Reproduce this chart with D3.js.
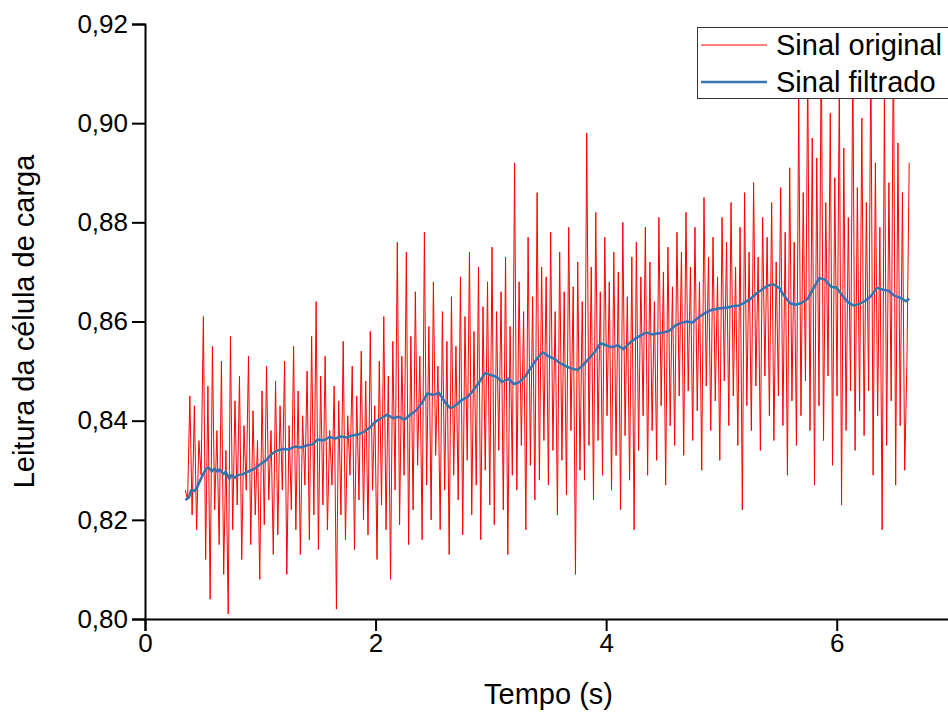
<!DOCTYPE html>
<html>
<head>
<meta charset="utf-8">
<script src="https://cdnjs.cloudflare.com/ajax/libs/d3/7.8.5/d3.min.js"></script>
<style>
  body { margin: 0; background: #fff; }
  text { font-family: "Liberation Sans", Arial, sans-serif; fill: #000; }
</style>
</head>
<body>
<svg width="948" height="713"></svg>
<script>
// sinal original: amostras a intervalo fixo a partir de tempoInicial
var tempoInicial = 0.35;
var passo = 0.01956;
var sinalOriginal = [
  0.826, 0.824, 0.845, 0.821, 0.843, 0.818, 0.836, 0.829, 0.861, 0.812, 0.847, 0.804, 0.855, 0.822, 0.838, 0.815, 0.852, 0.809, 0.834, 0.801,
  0.857, 0.818, 0.844, 0.823, 0.849, 0.812, 0.839, 0.826, 0.853, 0.815, 0.842, 0.821, 0.836, 0.808, 0.846, 0.819, 0.851, 0.824, 0.838, 0.813,
  0.848, 0.817, 0.843, 0.826, 0.852, 0.809, 0.839, 0.822, 0.855, 0.818, 0.846, 0.813, 0.841, 0.827, 0.850, 0.816, 0.857, 0.821, 0.864, 0.814,
  0.849, 0.823, 0.853, 0.818, 0.838, 0.827, 0.847, 0.802, 0.844, 0.821, 0.856, 0.816, 0.841, 0.829, 0.851, 0.814, 0.845, 0.824, 0.854, 0.820,
  0.848, 0.817, 0.858, 0.826, 0.843, 0.812, 0.852, 0.823, 0.861, 0.818, 0.849, 0.808, 0.856, 0.826, 0.876, 0.819, 0.853, 0.829, 0.874, 0.815,
  0.857, 0.822, 0.866, 0.831, 0.853, 0.816, 0.878, 0.827, 0.859, 0.820, 0.868, 0.833, 0.851, 0.818, 0.862, 0.826, 0.856, 0.813, 0.865, 0.829,
  0.855, 0.824, 0.869, 0.817, 0.861, 0.832, 0.874, 0.821, 0.858, 0.827, 0.871, 0.816, 0.863, 0.830, 0.868, 0.823, 0.875, 0.819, 0.862, 0.834,
  0.866, 0.822, 0.873, 0.813, 0.859, 0.829, 0.892, 0.826, 0.868, 0.835, 0.862, 0.818, 0.877, 0.831, 0.865, 0.824, 0.886, 0.828, 0.871, 0.836,
  0.869, 0.827, 0.878, 0.834, 0.862, 0.821, 0.874, 0.832, 0.866, 0.825, 0.879, 0.838, 0.867, 0.809, 0.872, 0.830, 0.864, 0.828, 0.898, 0.835,
  0.871, 0.824, 0.882, 0.836, 0.866, 0.829, 0.877, 0.841, 0.868, 0.826, 0.874, 0.833, 0.870, 0.822, 0.880, 0.837, 0.865, 0.828, 0.873, 0.818,
  0.876, 0.834, 0.869, 0.841, 0.879, 0.829, 0.872, 0.838, 0.864, 0.832, 0.881, 0.843, 0.870, 0.827, 0.875, 0.839, 0.867, 0.835, 0.878, 0.845,
  0.874, 0.833, 0.882, 0.846, 0.871, 0.836, 0.879, 0.842, 0.868, 0.830, 0.885, 0.847, 0.873, 0.838, 0.877, 0.844, 0.869, 0.832, 0.881, 0.848,
  0.876, 0.839, 0.884, 0.845, 0.871, 0.835, 0.879, 0.822, 0.886, 0.843, 0.874, 0.838, 0.888, 0.847, 0.873, 0.834, 0.881, 0.849, 0.877, 0.841,
  0.884, 0.836, 0.872, 0.845, 0.887, 0.839, 0.878, 0.829, 0.891, 0.844, 0.876, 0.835, 0.905, 0.841, 0.886, 0.848, 0.912, 0.838, 0.897, 0.827,
  0.893, 0.843, 0.918, 0.836, 0.884, 0.849, 0.902, 0.831, 0.889, 0.845, 0.908, 0.823, 0.895, 0.838, 0.881, 0.846, 0.914, 0.834, 0.887, 0.842,
  0.901, 0.837, 0.884, 0.846, 0.915, 0.829, 0.892, 0.841, 0.879, 0.818, 0.906, 0.835, 0.888, 0.844, 0.919, 0.827, 0.896, 0.839, 0.886, 0.830,
  0.852, 0.892
];

// sinal filtrado
var tempoFiltrado = [0.35, 0.38, 0.40, 0.43, 0.45, 0.48, 0.50, 0.53, 0.55, 0.58, 0.60, 0.63, 0.65, 0.68, 0.70, 0.73, 0.75, 0.78, 0.80, 0.85,
  0.90, 0.95, 1.00, 1.05, 1.10, 1.15, 1.20, 1.25, 1.30, 1.35, 1.40, 1.45, 1.50, 1.55, 1.60, 1.65, 1.70, 1.75, 1.80, 1.85,
  1.90, 1.95, 2.00, 2.05, 2.10, 2.15, 2.20, 2.25, 2.30, 2.35, 2.40, 2.45, 2.50, 2.55, 2.60, 2.65, 2.70, 2.75, 2.80, 2.85,
  2.90, 2.95, 3.00, 3.05, 3.10, 3.15, 3.20, 3.25, 3.30, 3.35, 3.40, 3.45, 3.50, 3.55, 3.60, 3.65, 3.70, 3.75, 3.80, 3.85,
  3.90, 3.95, 4.00, 4.05, 4.10, 4.15, 4.20, 4.25, 4.30, 4.35, 4.40, 4.45, 4.50, 4.55, 4.60, 4.65, 4.70, 4.75, 4.80, 4.85,
  4.90, 4.95, 5.00, 5.05, 5.10, 5.15, 5.20, 5.25, 5.30, 5.35, 5.40, 5.45, 5.50, 5.55, 5.60, 5.65, 5.70, 5.75, 5.80, 5.85,
  5.90, 5.95, 6.00, 6.05, 6.10, 6.15, 6.20, 6.25, 6.30, 6.35, 6.40, 6.45, 6.50, 6.55, 6.60, 6.63];
var sinalFiltrado = [0.8240, 0.8245, 0.8260, 0.8258, 0.8265, 0.8280, 0.8290, 0.8303, 0.8306, 0.8298, 0.8303, 0.8297, 0.8302, 0.8292, 0.8297, 0.8283, 0.8290, 0.8285, 0.8290, 0.8292,
  0.8298, 0.8303, 0.8312, 0.8320, 0.8333, 0.8340, 0.8343, 0.8342, 0.8348, 0.8346, 0.8350, 0.8352, 0.8362, 0.8360, 0.8367, 0.8364, 0.8368, 0.8366, 0.8370, 0.8372,
  0.8378, 0.8386, 0.8398, 0.8405, 0.8412, 0.8405, 0.8408, 0.8402, 0.8412, 0.8420, 0.8435, 0.8455, 0.8452, 0.8456, 0.8438, 0.8425, 0.8432, 0.8442, 0.8448, 0.8462,
  0.8478, 0.8496, 0.8492, 0.8488, 0.8478, 0.8485, 0.8474, 0.8478, 0.8490, 0.8508, 0.8525, 0.8538, 0.8530, 0.8525, 0.8516, 0.8510, 0.8505, 0.8502, 0.8512, 0.8525,
  0.8538, 0.8556, 0.8552, 0.8548, 0.8552, 0.8544, 0.8556, 0.8565, 0.8572, 0.8578, 0.8574, 0.8576, 0.8578, 0.8582, 0.8592, 0.8597, 0.8600, 0.8598, 0.8608, 0.8616,
  0.8622, 0.8625, 0.8627, 0.8628, 0.8631, 0.8632, 0.8638, 0.8645, 0.8656, 0.8664, 0.8672, 0.8675, 0.8668, 0.8650, 0.8636, 0.8634, 0.8638, 0.8646, 0.8668, 0.8688,
  0.8684, 0.8670, 0.8668, 0.8652, 0.8638, 0.8632, 0.8636, 0.8642, 0.8652, 0.8668, 0.8664, 0.8662, 0.8652, 0.8648, 0.8641, 0.8646];

var ticksX = [0, 2, 4, 6];
var ticksY = [0.80, 0.82, 0.84, 0.86, 0.88, 0.90, 0.92];
var legendas = ["Sinal original", "Sinal filtrado"];
var cores = ["#ff0000", "#3674b0"];

var svg = d3.select("svg");

var x = d3.scaleLinear().domain([0, 7]).range([145, 952]);
var y = d3.scaleLinear().domain([0.80, 0.92]).range([619, 24]);

var virgula = function(d) { return d3.format(".2f")(d).replace(".", ","); };

// sinal original
var linhaOriginal = d3.line()
    .x(function(d, i) { return x(tempoInicial + i * passo); })
    .y(function(d) { return y(d); });

svg.append("path")
    .datum(sinalOriginal)
    .attr("fill", "none")
    .attr("stroke", cores[0])
    .attr("stroke-width", 1)
    .attr("d", linhaOriginal);

var linhaFiltrada = d3.line()
    .x(function(d, i) { return x(tempoFiltrado[i]); })
    .y(function(d) { return y(d); });

svg.append("path")
    .datum(sinalFiltrado)
    .attr("fill", "none")
    .attr("stroke", cores[1])
    .attr("stroke-width", 2.6)
    .attr("stroke-linejoin", "round")
    .attr("d", linhaFiltrada);

// eixos
var eixoX = svg.append("g")
    .attr("transform", "translate(0," + y(0.80) + ")");
eixoX.call(d3.axisBottom(x).tickValues(d3.range(0, 7.5, 1)).tickSize(7).tickFormat(""));
eixoX.call(d3.axisBottom(x).tickValues(ticksX).tickSize(12).tickPadding(3).tickFormat(d3.format("d")));

var eixoY = svg.append("g")
    .attr("transform", "translate(" + x(0) + ",0)");
eixoY.call(d3.axisLeft(y).tickValues(d3.range(0.80, 0.925, 0.01)).tickSize(7).tickFormat(""));
eixoY.call(d3.axisLeft(y).tickValues(ticksY).tickSize(13).tickPadding(4).tickFormat(virgula));

svg.selectAll(".domain").attr("stroke", "#000").attr("stroke-width", 2);
svg.selectAll(".tick line").attr("stroke", "#000").attr("stroke-width", 2);
svg.selectAll(".tick text")
    .attr("font-family", "'Liberation Sans', Arial, sans-serif")
    .attr("font-size", 26);

svg.append("text")
    .attr("x", (x(0) + 952) / 2)
    .attr("y", 704)
    .attr("text-anchor", "middle")
    .attr("font-size", 29)
    .text("Tempo (s)");

svg.append("text")
    .attr("transform", "translate(34," + y(0.86) + ") rotate(-90)")
    .attr("text-anchor", "middle")
    .attr("font-size", 29)
    .text("Leitura da célula de carga");

// legenda
var legenda = svg.append("g");
legenda.append("rect")
    .attr("x", 697.5).attr("y", 27.5)
    .attr("width", 252).attr("height", 71)
    .attr("fill", "#fff")
    .attr("stroke", "#333")
    .attr("stroke-width", 1);

var itens = legenda.selectAll(".item")
    .data(legendas)
    .enter().append("g")
    .attr("class", "item")
    .attr("transform", function(d, i) { return "translate(0," + (45 + i * 37) + ")"; });

itens.append("line")
    .attr("x1", 701).attr("x2", 767)
    .attr("stroke", function(d, i) { return cores[i]; })
    .attr("stroke-width", function(d, i) { return i == 0 ? 1 : 2.6; });

itens.append("text")
    .attr("x", 776)
    .attr("y", 10)
    .attr("font-size", 29)
    .text(function(d) { return d; });
</script>
</body>
</html>
